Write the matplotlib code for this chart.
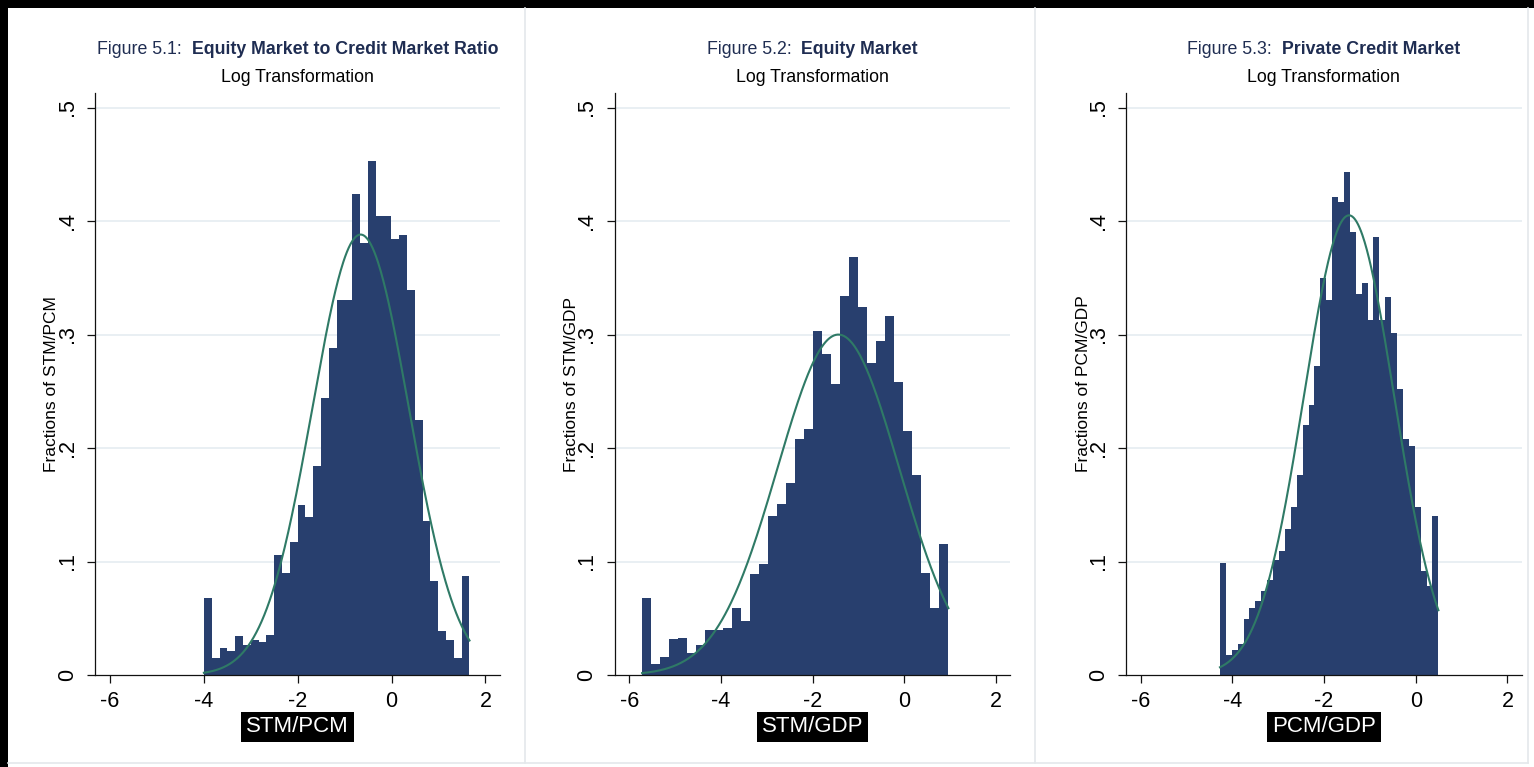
import numpy as np
import matplotlib
matplotlib.use("Agg")
import matplotlib.pyplot as plt
from matplotlib.patches import Rectangle
from matplotlib.lines import Line2D

plt.rcParams['font.family'] = ['Liberation Sans', 'DejaVu Sans']

W, H = 1534, 767

# ---------------- data ----------------
fig_numbers = ["Figure 5.1:", "Figure 5.2:", "Figure 5.3:"]
fig_titles = ["Equity Market to Credit Market Ratio", "Equity Market", "Private Credit Market"]
subtitle = "Log Transformation"
x_labels = ["STM/PCM", "STM/GDP", "PCM/GDP"]
y_labels = ["Fractions of STM/PCM", "Fractions of STM/GDP", "Fractions of PCM/GDP"]

x_ticks = [-6, -4, -2, 0, 2]
x_tick_labels = ["-6", "-4", "-2", "0", "2"]
y_ticks = [0, 0.1, 0.2, 0.3, 0.4, 0.5]
y_tick_labels = ["0", ".1", ".2", ".3", ".4", ".5"]

# Panel 1: STM/PCM (log)
p1_range = (-4.0, 1.66)
p1_heights = [0.068, 0.015, 0.024, 0.021, 0.034, 0.026, 0.031, 0.029, 0.035,
              0.106, 0.090, 0.117, 0.150, 0.139, 0.184, 0.244, 0.288, 0.330,
              0.330, 0.424, 0.381, 0.453, 0.404, 0.404, 0.384, 0.388, 0.339,
              0.225, 0.136, 0.083, 0.039, 0.031, 0.015, 0.087]
p1_mean, p1_sd = -0.66, 1.028

# Panel 2: STM/GDP (log)
p2_range = (-5.72, 0.96)
p2_heights = [0.068, 0.010, 0.016, 0.032, 0.033, 0.019, 0.026, 0.040, 0.040,
              0.041, 0.059, 0.048, 0.089, 0.098, 0.140, 0.151, 0.169, 0.208,
              0.217, 0.303, 0.283, 0.256, 0.334, 0.368, 0.324, 0.275, 0.294,
              0.316, 0.258, 0.215, 0.176, 0.090, 0.059, 0.115]
p2_mean, p2_sd = -1.44, 1.33

# Panel 3: PCM/GDP (log)
p3_range = (-4.27, 0.495)
p3_heights = [0.099, 0.018, 0.022, 0.027, 0.049, 0.059, 0.065, 0.074, 0.084,
              0.101, 0.109, 0.129, 0.148, 0.176, 0.220, 0.238, 0.272, 0.350,
              0.330, 0.421, 0.417, 0.443, 0.390, 0.336, 0.345, 0.313, 0.386,
              0.313, 0.333, 0.301, 0.252, 0.208, 0.202, 0.148, 0.092, 0.078,
              0.140]
p3_mean, p3_sd = -1.455, 0.985

panels = [
    (p1_range, p1_heights, p1_mean, p1_sd),
    (p2_range, p2_heights, p2_mean, p2_sd),
    (p3_range, p3_heights, p3_mean, p3_sd),
]

# ---------------- style / layout ----------------
BAR = "#283f6e"
CURVE = "#2f7a66"
GRID = "#e7eef2"
NAVY_TXT = "#1f2d52"
XLIM = (-6.32, 2.31)
YLIM = (0, 0.5128)

# axes boxes in pixels: (left, right, top, bottom)
boxes = [(95, 500, 93, 675), (614.6, 1010.3, 93, 675), (1126, 1521.6, 93, 675)]

fig = plt.figure(figsize=(W / 100, H / 100), dpi=100)
fig.patch.set_facecolor("white")

def fx(px):
    return px / W

def fy(py):
    return 1 - py / H

# frame decorations
fig.add_artist(Rectangle((0, fy(8)), 1, 8 / H, transform=fig.transFigure,
                         facecolor="black", edgecolor="none"))
fig.add_artist(Rectangle((0, 0), 8 / W, 1, transform=fig.transFigure,
                         facecolor="black", edgecolor="none"))
for xs in (525, 1035, 1528):
    fig.add_artist(Line2D([fx(xs), fx(xs)], [fy(8), fy(763)], transform=fig.transFigure,
                          color="#e4e8eb", lw=1.2))
fig.add_artist(Line2D([fx(8), fx(1528)], [fy(763), fy(763)], transform=fig.transFigure,
                      color="#e4e8eb", lw=1.2))

title_items = []
for i, (box, (rng, heights, mu, sd)) in enumerate(zip(boxes, panels)):
    l, r, t, b = box
    ax = fig.add_axes([fx(l), fy(b), (r - l) / W, (b - t) / H])
    ax.set_facecolor("white")
    edges = np.linspace(rng[0], rng[1], len(heights) + 1)
    ax.stairs(heights, edges, fill=True, color=BAR, baseline=0, zorder=2)
    xs = np.linspace(rng[0], rng[1], 300)
    ax.plot(xs, np.exp(-0.5 * ((xs - mu) / sd) ** 2) / (sd * np.sqrt(2 * np.pi)),
            color=CURVE, lw=1.5, zorder=3)
    ax.set_xlim(*XLIM)
    ax.set_ylim(*YLIM)
    for yv in y_ticks[1:]:
        ax.axhline(yv, color=GRID, lw=1.3, zorder=1)
    for s in ("top", "right"):
        ax.spines[s].set_visible(False)
    for s in ("left", "bottom"):
        ax.spines[s].set_linewidth(0.9)
        ax.spines[s].set_color("#111111")
    ax.set_xticks(x_ticks)
    ax.set_xticklabels(x_tick_labels, fontsize=15.5)
    ax.set_yticks(y_ticks)
    ax.set_yticklabels(y_tick_labels, fontsize=15.5, rotation=90, va="center")
    ax.tick_params(axis="both", direction="out", length=5.5, width=0.9, color="#111111")
    ax.tick_params(axis="x", pad=6)
    ax.tick_params(axis="y", pad=7)

    cx = (l + r) / 2
    # x label: white text on black box
    fig.text(fx(cx), fy(727), x_labels[i], ha="center", va="center", fontsize=16,
             color="white",
             bbox=dict(boxstyle="square,pad=0.22", facecolor="black", edgecolor="none"))
    # y label
    fig.text(fx(l - 43), fy((t + b) / 2), y_labels[i], ha="center", va="center",
             rotation=90, fontsize=12.5, color="black")
    # subtitle
    fig.text(fx(cx), fy(78), subtitle, ha="center", va="center", fontsize=12.8, color="black")
    t1 = fig.text(0, fy(50), fig_numbers[i] + "  ", ha="left", va="center",
                  fontsize=12.8, color=NAVY_TXT)
    t2 = fig.text(0, fy(50), fig_titles[i], ha="left", va="center",
                  fontsize=12.8, color=NAVY_TXT, fontweight="bold")
    title_items.append((cx, t1, t2))

fig.canvas.draw()
rend = fig.canvas.get_renderer()
for cx, t1, t2 in title_items:
    w1 = t1.get_window_extent(rend).width
    w2 = t2.get_window_extent(rend).width
    start = cx - (w1 + w2) / 2
    t1.set_x(fx(start))
    t2.set_x(fx(start + w1))

fig.savefig("out.png", dpi=100, facecolor="white")
